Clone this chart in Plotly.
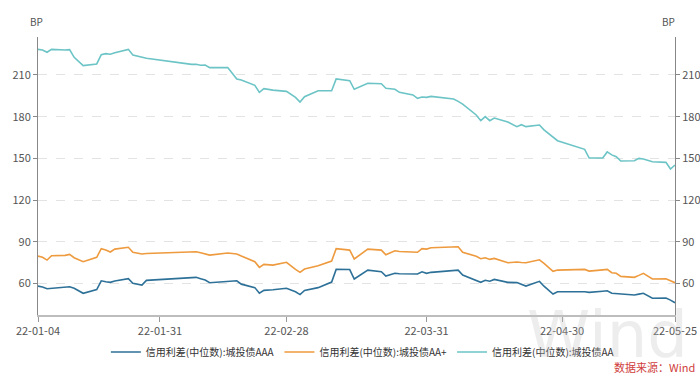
import plotly.graph_objects as go

dates = ["2022-01-04","2022-01-05","2022-01-06","2022-01-07","2022-01-10","2022-01-11","2022-01-12","2022-01-14",
         "2022-01-17","2022-01-18","2022-01-19","2022-01-20","2022-01-21","2022-01-24","2022-01-25","2022-01-27",
         "2022-01-28","2022-02-07","2022-02-08","2022-02-09","2022-02-10","2022-02-11","2022-02-15","2022-02-17",
         "2022-02-18","2022-02-21","2022-02-22","2022-02-23","2022-02-25","2022-02-28","2022-03-02","2022-03-03",
         "2022-03-04","2022-03-07","2022-03-10","2022-03-11","2022-03-14","2022-03-15","2022-03-18","2022-03-21",
         "2022-03-22","2022-03-24","2022-03-25","2022-03-28","2022-03-29","2022-03-30","2022-03-31","2022-04-01",
         "2022-04-06","2022-04-07","2022-04-08","2022-04-11","2022-04-12","2022-04-13","2022-04-14","2022-04-15",
         "2022-04-18","2022-04-20","2022-04-21","2022-04-22","2022-04-25","2022-04-26","2022-04-28","2022-04-29",
         "2022-05-05","2022-05-06","2022-05-09","2022-05-10","2022-05-11","2022-05-12","2022-05-13","2022-05-16",
         "2022-05-17","2022-05-18","2022-05-20","2022-05-23","2022-05-24","2022-05-25"]

aaa = [58.1,57.5,56.2,56.5,57.3,57.6,56.5,52.9,
       55.6,61.9,61.2,60.8,61.8,63.4,60.1,58.8,
       62.2,64.2,64.4,63.4,62.4,60.5,61.2,61.9,
       59.5,57.0,53.0,55.0,55.5,56.5,54.0,52.0,
       55.0,57.0,61.0,70.1,70.0,63.2,69.6,68.4,
       65.3,67.3,67.0,66.8,66.8,68.4,67.3,68.0,
       69.6,69.6,66.0,62.5,60.8,62.3,61.6,62.9,
       60.8,60.6,59.5,58.1,61.5,58.0,52.4,54.0,
       54.0,53.6,54.4,54.7,52.9,52.7,52.3,51.7,
       52.3,52.9,49.3,49.5,48.0,46.1]

aa_plus = [79.7,78.8,76.8,79.9,80.2,80.9,78.5,75.6,
           78.8,85.0,84.0,82.6,84.7,86.0,82.4,81.2,
           81.5,82.5,82.8,82.1,81.5,80.4,81.9,81.2,
           79.7,75.6,71.6,73.7,73.2,75.2,70.1,68.0,
           70.4,72.7,76.1,85.0,84.0,77.6,84.7,84.0,
           80.6,83.5,83.0,82.4,82.4,85.0,84.7,85.7,
           86.4,86.4,82.4,79.5,77.8,78.5,77.3,78.0,
           74.9,75.4,75.1,74.9,77.0,74.5,68.7,69.6,
           70.1,68.9,69.8,70.1,67.7,67.3,65.1,64.4,
           65.8,67.3,63.2,63.4,62.0,60.5]

aa = [228.4,228.0,226.3,228.4,228.0,228.2,222.7,216.7,
      217.9,224.6,225.3,224.9,226.0,228.4,224.4,222.5,
      222.0,217.6,217.7,217.0,217.2,215.3,215.3,207.1,
      206.4,202.5,197.5,200.1,199.1,198.2,193.9,190.5,
      194.3,198.6,198.6,207.1,205.9,199.7,204.0,203.7,
      200.4,199.7,197.5,195.6,193.2,194.1,193.9,194.6,
      192.7,191.0,189.0,181.2,177.1,180.0,177.1,179.0,
      176.1,172.8,174.2,172.8,174.0,170.5,165.0,162.7,
      156.5,150.2,150.2,154.6,152.5,151.2,148.1,148.3,
      150.0,149.5,147.6,147.1,142.3,145.2]

series_names = ["信用利差(中位数):城投债AAA", "信用利差(中位数):城投债AA+", "信用利差(中位数):城投债AA"]
series_colors = ["#2e7198", "#ee9a3e", "#6cc4c6"]

tick_dates = ["2022-01-04","2022-01-31","2022-02-28","2022-03-31","2022-04-30","2022-05-25"]
tick_labels = ["22-01-04","22-01-31","22-02-28","22-03-31","22-04-30","22-05-25"]
y_ticks = [60, 90, 120, 150, 180, 210]

font_family = "Noto Sans CJK SC, Noto Sans, sans-serif"

fig = go.Figure()
for name, vals, col in zip(series_names, [aaa, aa_plus, aa], series_colors):
    fig.add_trace(go.Scatter(x=dates, y=vals, name=name, mode="lines",
                             line=dict(color=col, width=1.6)))
# invisible trace on the right axis so it is drawn
fig.add_trace(go.Scatter(x=[dates[0]], y=[None], yaxis="y2", showlegend=False,
                         hoverinfo="skip", mode="lines"))

yrange = [37.3, 237.3]
axis_font = dict(family=font_family, size=11, color="#555555")

# plot area in pixels: left 38, right 675, top 37, bottom 315
def px_x(px):
    return (px - 38) / 637.0

def px_y(py):
    return (315 - py) / 278.0

fig.update_layout(
    width=700, height=377,
    margin=dict(l=38, r=25, t=37, b=62, autoexpand=False),
    paper_bgcolor="white", plot_bgcolor="white",
    font=dict(family=font_family, size=11, color="#555555"),
    xaxis=dict(type="date", range=["2022-01-04", "2022-05-25"],
               tickvals=tick_dates, ticktext=tick_labels,
               showgrid=False, showline=True, linecolor="#bdbdbd", linewidth=2,
               ticks="outside", ticklen=5, tickcolor="#999999", tickfont=axis_font,
               zeroline=False),
    yaxis=dict(range=yrange, tickvals=y_ticks, showgrid=True, gridcolor="#e3e3e3",
               griddash="dash", gridwidth=1, showline=True, linecolor="#888888", linewidth=1,
               ticks="outside", ticklen=4, tickcolor="#888888", tickfont=axis_font,
               zeroline=False),
    yaxis2=dict(range=yrange, tickvals=y_ticks, overlaying="y", side="right",
                showgrid=False, showline=True, linecolor="#888888", linewidth=1,
                ticks="outside", ticklen=4, tickcolor="#888888", tickfont=axis_font,
                zeroline=False),
    legend=dict(orientation="h", x=0.51, xanchor="center", yref="container",
                y=1 - 352 / 377, yanchor="middle",
                font=dict(family=font_family, size=10, color="#333333"),
                itemwidth=30, tracegroupgap=0, bgcolor="rgba(0,0,0,0)"),
    showlegend=True,
)

fig.add_annotation(text="Wind", xref="paper", yref="paper", x=px_x(690), y=px_y(335),
                   xanchor="right", yanchor="middle", showarrow=False,
                   font=dict(family="DejaVu Sans, sans-serif", size=64, color="rgba(195,195,195,0.3)"))
fig.add_annotation(text="BP", xref="paper", yref="paper", x=px_x(36), y=px_y(22),
                   xanchor="center", yanchor="middle", showarrow=False,
                   font=dict(family=font_family, size=10, color="#555555"))
fig.add_annotation(text="BP", xref="paper", yref="paper", x=px_x(668), y=px_y(22),
                   xanchor="center", yanchor="middle", showarrow=False,
                   font=dict(family=font_family, size=10, color="#555555"))
fig.add_annotation(text="数据来源：Wind", xref="paper", yref="paper", x=px_x(697), y=px_y(367),
                   xanchor="right", yanchor="middle", showarrow=False,
                   font=dict(family=font_family, size=11, color="#d04040"))

fig.write_html("out.html",
               config={"displayModeBar": False},
               post_script="document.body.style.margin='0';document.body.style.overflow='hidden';")
